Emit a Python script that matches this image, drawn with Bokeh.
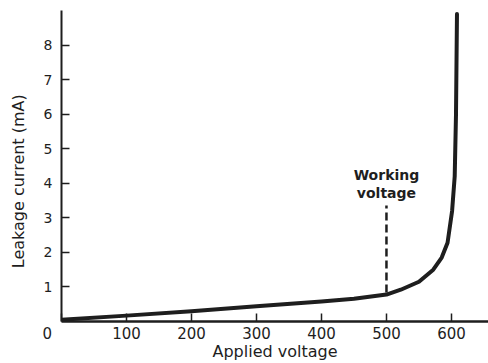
from bokeh.plotting import figure
from bokeh.models import Range1d, FixedTicker, ColumnDataSource
from bokeh.core.properties import value
from bokeh.embed import file_html
from bokeh.resources import INLINE

# ---- data ----
voltage = [0, 100, 200, 300, 400, 450, 500, 522, 550, 572, 585, 594, 601, 605, 607, 608.5]
current = [0.05, 0.17, 0.30, 0.44, 0.58, 0.66, 0.78, 0.92, 1.15, 1.5, 1.85, 2.28, 3.2, 4.2, 6.0, 8.9]
x_ticks = [0, 100, 200, 300, 400, 500, 600]
y_ticks = [1, 2, 3, 4, 5, 6, 7, 8]
working_x = [500, 500]
working_y = [0.84, 3.36]
working_text = ["Working", "voltage"]
working_text_y = [4.25, 3.73]
x_title = "Applied voltage"
y_title = "Leakage current (mA)"

INK = "#1e1e1e"
FONT = "DejaVu Sans"
NBSP = "\u00a0"

p = figure(width=488, height=363, output_backend="svg", toolbar_location=None,
           x_range=Range1d(0, 657), y_range=Range1d(0, 9.0),
           min_border_left=61, min_border_right=0, min_border_top=10, min_border_bottom=42)
p.outline_line_color = None
p.xgrid.visible = False
p.ygrid.visible = False
p.background_fill_color = "white"
p.border_fill_color = "white"

p.line(voltage, current, line_width=4, line_color=INK, line_cap="round", line_join="round")
p.line(working_x, working_y, line_width=2.5, line_color=INK, line_dash="8 4")

src = ColumnDataSource(dict(x=working_x, y=working_text_y, t=working_text))
p.text(x="x", y="y", text="t", source=src, text_align="center", text_baseline="middle",
       text_font=value(FONT), text_font_size="14px", text_font_style="bold", text_color=INK)

for ax in (p.xaxis, p.yaxis):
    ax.axis_line_color = INK
    ax.major_tick_line_color = INK
    ax.major_tick_line_width = 1.5
    ax.minor_tick_line_color = None
    ax.major_tick_out = 0
    ax.major_tick_in = 8
    ax.major_label_text_font = FONT
    ax.major_label_text_color = INK
    ax.axis_label_text_font = FONT
    ax.axis_label_text_font_size = "16px"
    ax.axis_label_text_font_style = "normal"
    ax.axis_label_text_color = INK

p.xaxis.major_label_text_font_size = "15px"
p.yaxis.major_label_text_font_size = "14px"
p.xaxis.axis_line_width = 2.5
p.yaxis.axis_line_width = 2
p.xaxis.ticker = FixedTicker(ticks=x_ticks)
p.yaxis.ticker = FixedTicker(ticks=y_ticks)
# the origin label sits left of the axis corner
p.xaxis.major_label_overrides = {0: "0" + NBSP * 6}
p.xaxis.major_label_standoff = 3
p.yaxis.major_label_standoff = 9
p.xaxis.axis_label = x_title
p.yaxis.axis_label = y_title + NBSP * 6
p.xaxis.axis_label_standoff = -4
p.yaxis.axis_label_standoff = 13

open("out.html", "w").write(file_html(p, INLINE))
